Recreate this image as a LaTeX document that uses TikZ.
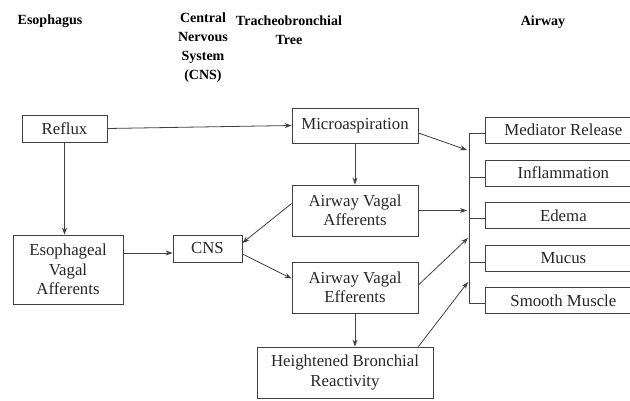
\documentclass[tikz,border=0pt]{standalone}
\usepackage{fontspec}
\setmainfont{LiberationSerif}[Extension=.ttf,UprightFont=*-Regular,BoldFont=*-Bold,ItalicFont=*-Italic,BoldItalicFont=*-BoldItalic]
\usetikzlibrary{arrows.meta}
\definecolor{ln}{gray}{0.25}
\tikzset{
  box/.style={draw=ln, line width=0.8pt, inner sep=0pt, align=center,
    font=\rmfamily\fontsize{16.8}{19.5}\selectfont, text=black!85},
  hdr/.style={inner sep=0pt, align=center, font=\rmfamily\bfseries\fontsize{14}{19}\selectfont},
  conn/.style={draw=ln, line width=0.8pt, -{Stealth[length=7pt,width=5pt]}},
  plain/.style={draw=ln, line width=0.8pt}
}
\begin{document}
\begin{tikzpicture}[x=1pt,y=-1pt]
\useasboundingbox (0,0) rectangle (630,401);
\clip (0,0) rectangle (630,401);
% headers
\node[hdr] (h1) at (50,21) {Esophagus};
\node[hdr] (h2) at (203,48) {Central\\Nervous\\System\\(CNS)};
\node[hdr] (h3) at (289,30) {Tracheobronchial\\Tree};
\node[hdr] (h4) at (543,22) {Airway};
% boxes
\node[box, minimum width=85pt, minimum height=27pt] (reflux) at (64.5,128.5) {Reflux};
\node[box, minimum width=126pt, minimum height=35pt] (micro) at (355,125.5) {Microaspiration};
\node[box, minimum width=126pt, minimum height=51pt] (aff) at (355,210.5) {Airway Vagal\\Afferents};
\node[box, minimum width=126pt, minimum height=51pt] (eff) at (355,287.5) {Airway Vagal\\Efferents};
\node[box, minimum width=176pt, minimum height=51pt] (hbr) at (345,372.5) {Heightened Bronchial\\Reactivity};
\node[box, minimum width=110pt, minimum height=69pt] (esoph) at (68,269.5) {Esophageal\\Vagal\\Afferents};
\node[box, minimum width=69pt, minimum height=27pt] (cns) at (207.5,248.5) {CNS};
% right boxes
\node[box, anchor=west, minimum width=156pt, minimum height=26pt] (med) at (485,130) {Mediator Release};
\node[box, anchor=west, minimum width=156pt, minimum height=26pt] (infl) at (485,173) {Inflammation};
\node[box, anchor=west, minimum width=156pt, minimum height=26pt] (edema) at (485,215.5) {Edema};
\node[box, anchor=west, minimum width=156pt, minimum height=26pt] (mucus) at (485,258.5) {Mucus};
\node[box, anchor=west, minimum width=156pt, minimum height=26pt] (smooth) at (485,300.5) {Smooth Muscle};
% bracket
\coordinate (btop) at (469,133);
\coordinate (bbot) at (469,303);
\draw[plain] (btop) -- (bbot);
\draw[plain] (btop) -- (med.west |- btop);
\draw[plain] (469,177) -- (infl.west |- 0,177);
\draw[plain] (469,218) -- (edema.west |- 0,218);
\draw[plain] (469,262) -- (mucus.west |- 0,262);
\draw[plain] (bbot) -- (smooth.west |- bbot);
\coordinate (t1) at (467,150);
\coordinate (t2) at (467,210.5);
\coordinate (t3) at (468,238);
\coordinate (t4) at (468,282);
% connectors
\draw[conn] (reflux.east) -- (micro.west);
\draw[conn] (reflux.south) -- (reflux.south |- esoph.north);
\draw[conn] (esoph.east |- 0,253) -- (cns.west |- 0,253);
\draw[conn] ([yshift=7pt]aff.west) -- ([yshift=5.5pt]cns.east);
\draw[conn] ([yshift=-5.5pt]cns.east) -- ([yshift=9pt]eff.west);
\draw[conn] (micro.south) -- (aff.north);
\draw[conn] (eff.south) -- (eff.south |- hbr.north);
\draw[conn] ([yshift=-7.5pt]micro.east) -- (t1);
\draw[conn] (aff.east) -- (t2);
\draw[conn] ([yshift=2.5pt]eff.east) -- (t3);
\draw[conn] ([xshift=-15pt]hbr.north east) -- (t4);
\end{tikzpicture}
\end{document}
